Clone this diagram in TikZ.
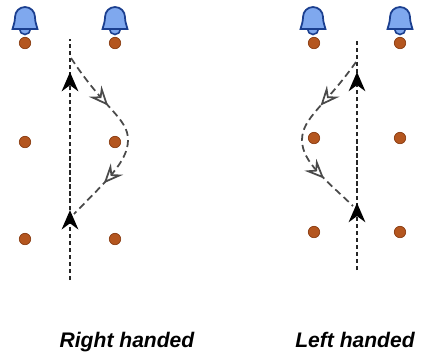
\documentclass[tikz,border=0pt]{standalone}
\usepackage{fontspec}
\setmainfont{Liberation Sans}
\usetikzlibrary{arrows.meta,decorations.markings}
\definecolor{bellfill}{HTML}{7FA8EE}
\definecolor{bellline}{HTML}{1B3F8F}
\definecolor{conefill}{HTML}{B4561F}
\definecolor{coneline}{HTML}{8A3C12}
\definecolor{pathgray}{HTML}{4A4A4A}
\tikzset{
	walktip/.tip={Stealth[length=11pt,width=9.5pt,inset=3.5pt,color=black]},
	looptip/.tip={Stealth[open,length=11pt,width=9.5pt,inset=4pt,color=pathgray,fill=white]}
}
\newcommand*{\drawBell}[2]{ % #1,#2 is the middle of the bell's base
	\begin{scope}[shift={(#1,#2)}]
		\draw[bellline, fill=bellfill, line width=0.9pt] (-5.5,0) arc[start angle=180,end angle=360,radius=5.5];
		\draw[bellline, fill=bellfill, line width=1pt] (-12.5,0) to[out=75,in=-90] (-10,12)
		arc[start angle=180,end angle=0,radius=10] to[out=-90,in=105] (12.5,0) -- cycle;
	\end{scope}
}

\begin{document}
\begin{tikzpicture}[x=0.02cm,y=0.02cm,
		cone/.style={circle,fill=conefill,draw=coneline,line width=0.4pt,inner sep=0pt,minimum size=6.5pt},
		vline/.style={line width=1pt,black!85,dash pattern=on 2.4pt off 1.6pt},
		loop/.style={line width=1pt,pathgray,dash pattern=on 4pt off 2.4pt},
		caption/.style={font=\bfseries\itshape\fontsize{12}{14}\selectfont,anchor=base,inner sep=0pt}]
		\useasboundingbox (0,0) rectangle (425,-353);
		
		% the cones
		\foreach \x in {25,115}
		\foreach \y in {43,142,239}
		\node[cone] (r-\x-\y) at (\x,-\y) {};
		\foreach \x in {314,400}
		\foreach \y in {43,138,232}
		\node[cone] (l-\x-\y) at (\x,-\y) {};
		
		% the bells
		\drawBell{25}{-29}
		\drawBell{115}{-29}
		\drawBell{313}{-29}
		\drawBell{400}{-29}
		
		% right handed
		\coordinate (rbot) at (70,-280);
		\coordinate (rtop) at (70,-39);
		\coordinate (rout) at (71,-58);
		\coordinate (rturn) at (128,-140);
		\coordinate (rback) at (74,-214);
		\draw[vline, postaction={decorate}, decoration={markings,
			mark=at position 0.29 with {\arrow{walktip}},
			mark=at position 0.863 with {\arrow{walktip}}}]
		(rbot) -- (rtop);
		\draw[loop, postaction={decorate}, decoration={markings,
			mark=at position 0.31 with {\arrow{looptip}},
			mark=at position 0.78 with {\arrow{looptip}}}]
		(rout) .. controls (105,-110) and (128,-118) .. (rturn)
		.. controls (128,-162) and (105,-182) .. (rback);
		
		% left handed
		\coordinate (lbot) at (357,-270);
		\coordinate (ltop) at (357,-41);
		\coordinate (lout) at (356,-62);
		\coordinate (lturn) at (302,-140);
		\coordinate (lback) at (353,-206);
		\draw[vline, postaction={decorate}, decoration={markings,
			mark=at position 0.293 with {\arrow{walktip}},
			mark=at position 0.865 with {\arrow{walktip}}}]
		(lbot) -- (ltop);
		\draw[loop, postaction={decorate}, decoration={markings,
			mark=at position 0.31 with {\arrow{looptip}},
			mark=at position 0.78 with {\arrow{looptip}}}]
		(lout) .. controls (325,-106) and (302,-118) .. (lturn)
		.. controls (302,-162) and (326,-180) .. (lback);
		
		% labels
		\node[caption] (rlabel) at (127,-347) {Right handed};
		\node[caption] (llabel) at (355,-347) {Left handed};
		
	\end{tikzpicture}
\end{document}
